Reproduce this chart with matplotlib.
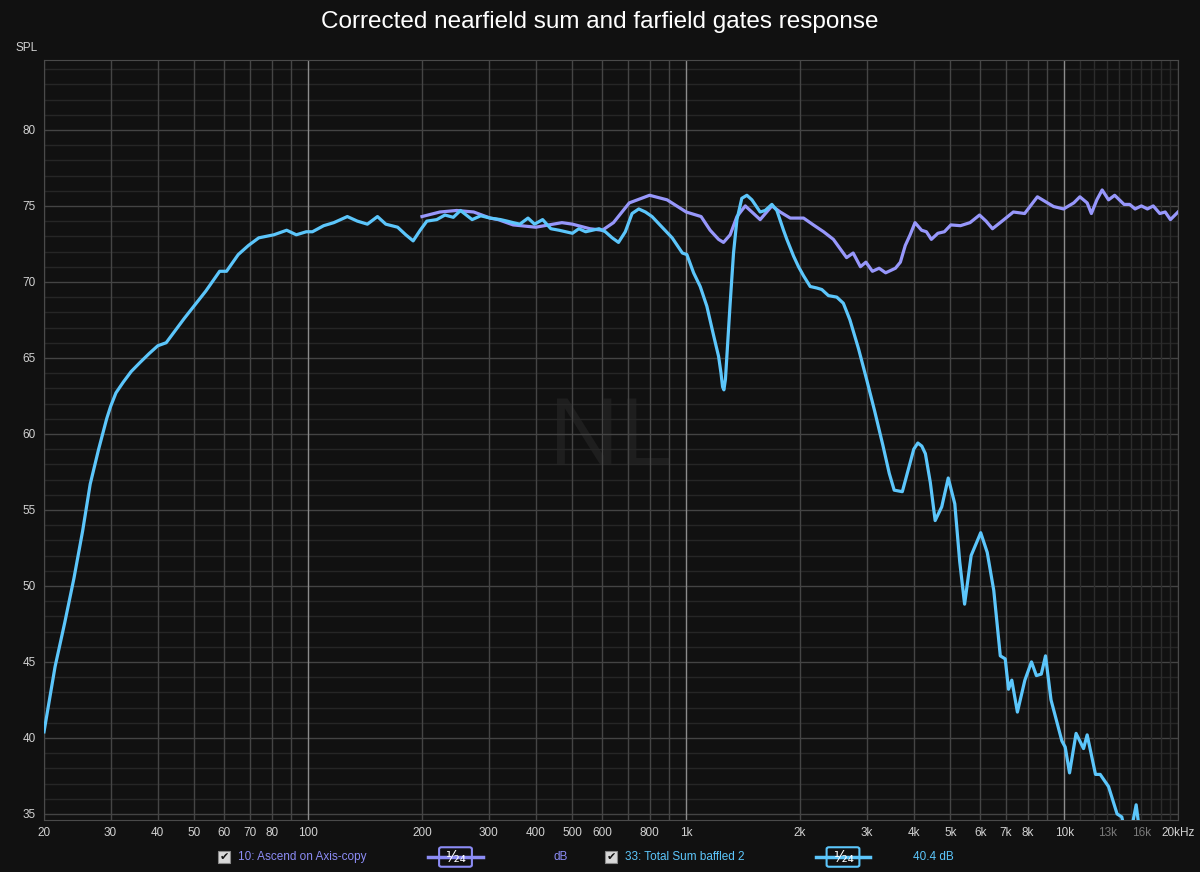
import matplotlib
matplotlib.use('Agg')
import matplotlib.pyplot as plt
from matplotlib.patches import Rectangle, FancyBboxPatch
from matplotlib.lines import Line2D

plt.rcParams['font.family'] = ['Liberation Sans', 'DejaVu Sans']

# 33: Total Sum baffled 2
sum_freq = [20.0, 21.4, 22.7, 24.0, 25.3, 26.5, 27.9, 29.3, 30.0, 31.0, 32.4, 34.0, 35.9, 38.0, 40.0,
            42.1, 47.0, 53.6, 58.3, 60.8, 65.3, 69.5, 74.0, 81.1, 87.7, 93.0, 98.8, 102.6, 109.9,
            116.9, 126.9, 134.9, 143.4, 152.5, 160.4, 172.4, 181.2, 189.5, 197.8, 206, 218.8, 230,
            242, 252.8, 271.4, 286, 303, 322.8, 336, 348.5, 363, 381.5, 397, 417, 438.5, 461, 500,
            520, 542, 588, 611, 637, 662, 690, 719, 749, 780, 812, 863, 918, 977, 1004, 1046, 1089,
            1134, 1181, 1218, 1236, 1248, 1258, 1270, 1281, 1307, 1334, 1362, 1403, 1447, 1492,
            1569, 1618, 1685, 1737, 1809, 1846, 1923, 1982, 2044, 2128, 2216, 2284, 2378, 2502,
            2604, 2711, 2857, 3000, 3152, 3310, 3445, 3550, 3730, 3882, 4000, 4100, 4200, 4293,
            4424, 4556, 4742, 4934, 5135, 5291, 5451, 5673, 6013, 6257, 6511, 6775, 6981, 7123,
            7267, 7519, 7869, 8192, 8441, 8698, 8924, 9228, 9859, 10060, 10330, 10750, 11250,
            11500, 12100, 12450, 13100, 13800, 14200, 14600, 15200, 15500, 15800, 16100]
sum_db = [40.4, 44.7, 47.6, 50.5, 53.6, 56.7, 59.0, 61.0, 61.8, 62.7, 63.4, 64.1, 64.7, 65.3, 65.8,
          66.0, 67.6, 69.4, 70.7, 70.7, 71.8, 72.4, 72.9, 73.1, 73.4, 73.1, 73.3, 73.3, 73.7,
          73.9, 74.3, 74.0, 73.8, 74.3, 73.8, 73.6, 73.1, 72.7, 73.4, 74.0, 74.1, 74.4,
          74.25, 74.7, 74.1, 74.35, 74.2, 74.1, 74.0, 73.9, 73.8, 74.2, 73.8, 74.1, 73.5, 73.4, 73.2,
          73.5, 73.3, 73.5, 73.3, 72.9, 72.6, 73.3, 74.5, 74.8, 74.6, 74.3, 73.6, 72.9, 71.9, 71.8,
          70.6, 69.7, 68.4, 66.5, 65.1, 64.0, 63.1, 62.9, 63.6, 65.1, 68.6, 71.9, 74.1, 75.5,
          75.7, 75.4, 74.6, 74.7, 75.1, 74.7, 73.4, 72.8, 71.7, 71.0, 70.4, 69.7, 69.6, 69.5,
          69.1, 69.0, 68.6, 67.5, 65.6, 63.6, 61.5, 59.3, 57.4, 56.3, 56.2, 57.8, 59.0, 59.4,
          59.2, 58.7, 56.8, 54.3, 55.2, 57.1, 55.4, 51.6, 48.8, 52.0, 53.5, 52.2, 49.7, 45.4,
          45.2, 43.2, 43.8, 41.7, 43.8, 45.0, 44.1, 44.2, 45.4, 42.5, 39.8, 39.4, 37.7, 40.3,
          39.3, 40.2, 37.6, 37.6, 36.8, 35.0, 34.8, 33.5, 34.5, 35.6, 34.0, 32.5]

# 10: Ascend on Axis-copy
axis_freq = [200, 223, 247, 274, 303, 318, 348.5, 400, 469, 500, 556, 600, 642, 707, 800, 890,
             1000, 1095, 1157, 1218, 1255, 1307, 1362, 1433, 1492, 1569, 1685, 1773, 1885, 2044,
             2170, 2309, 2451, 2551, 2656, 2765, 2890, 2988, 3109, 3238, 3370, 3577, 3686, 3798,
             3912, 4030, 4194, 4320, 4452, 4632, 4819, 5014, 5315, 5633, 5970, 6211, 6461, 6848,
             7336, 7858, 8493, 9371, 9960, 10600, 11000, 11500, 11800, 12200, 12600, 13100, 13600,
             14400, 14900, 15400, 16000, 16600, 17200, 17900, 18500, 19100, 20000]
axis_db = [74.3, 74.6, 74.7, 74.6, 74.2, 74.1, 73.75, 73.6, 73.9, 73.8, 73.5, 73.4, 73.9, 75.2, 75.7, 75.4,
           74.6, 74.3, 73.4, 72.8, 72.6, 73.1, 74.3, 75.0, 74.6, 74.1, 75.0, 74.6, 74.2, 74.2,
           73.75, 73.3, 72.8, 72.2, 71.6, 71.9, 71.0, 71.3, 70.7, 70.9, 70.6, 70.9, 71.3, 72.4,
           73.1, 73.9, 73.4, 73.3, 72.8, 73.2, 73.3, 73.75, 73.7, 73.9, 74.4, 74.0, 73.5, 74.0,
           74.6, 74.5, 75.6, 74.96, 74.8, 75.2, 75.6, 75.2, 74.5, 75.4, 76.05, 75.4, 75.7,
           75.1, 75.1, 74.8, 75.0, 74.8, 75.0, 74.5, 74.6, 74.1, 74.6]

x_ticks = [20, 30, 40, 50, 60, 70, 80, 100, 200, 300, 400, 500, 600, 800, 1000, 2000, 3000, 4000,
           5000, 6000, 7000, 8000, 10000, 13000, 16000, 20000]
x_labels = ['20', '30', '40', '50', '60', '70', '80', '100', '200', '300', '400', '500', '600',
            '800', '1k', '2k', '3k', '4k', '5k', '6k', '7k', '8k', '10k', '13k', '16k', '20kHz']
y_ticks = [35, 40, 45, 50, 55, 60, 65, 70, 75, 80]

bg = '#111111'
purple = '#9797fb'
blue = '#5cc6fb'

fig = plt.figure(figsize=(12, 8.72), dpi=100, facecolor=bg)
ax = fig.add_axes([44 / 1200, 1 - 820 / 872, 1134 / 1200, 760 / 872])
ax.set_facecolor(bg)
ax.set_xscale('log')
ax.set_xlim(20, 20000)
ax.set_ylim(34.6, 84.6)

# grid
for db in range(35, 85):
    ax.axhline(db, color='#444444' if db % 5 == 0 else '#262626', lw=1, zorder=1)
for dec in [10, 100, 1000, 10000]:
    for m in range(1, 10):
        f = dec * m
        if f < 20 or f > 20000:
            continue
        if m == 1:
            ax.axvline(f, color='#8c8c8c', lw=1, zorder=2)
        else:
            ax.axvline(f, color='#454545', lw=1, zorder=1)
for f in range(11000, 20000, 1000):
    ax.axvline(f, color='#2c2c2c', lw=1, zorder=1)

for s in ax.spines.values():
    s.set_color('#4a4a4a')

ax.text(0.5, 0.5, 'NL', transform=ax.transAxes, fontsize=70, color='#1e1e1e',
        ha='center', va='center', zorder=0)

ax.plot(axis_freq, axis_db, color=purple, lw=2.3, solid_joinstyle='round', zorder=4)
ax.plot(sum_freq, sum_db, color=blue, lw=2.3, solid_joinstyle='round', zorder=5)

ax.set_xticks(x_ticks)
ax.set_xticklabels(x_labels)
ax.set_xticks([], minor=True)
ax.set_yticks(y_ticks)
ax.tick_params(axis='both', length=0, labelsize=8.5, colors='#d2d2d2')
ax.tick_params(axis='x', pad=5)
ax.tick_params(axis='y', pad=6)
for lab in ax.get_xticklabels():
    if lab.get_text() in ('13k', '16k'):
        lab.set_color('#7a7a7a')

fig.text(0.5, 1 - 22 / 872, 'Corrected nearfield sum and farfield gates response',
         ha='center', va='center', color='white', fontsize=17.5)
fig.text(16 / 1200, 1 - 48 / 872, 'SPL', ha='left', va='center', color='#d2d2d2', fontsize=8.5)


def fx(x):
    return x / 1200


def fy(y):
    return 1 - y / 872


def legend_item(x_box, name, color, x_line0, x_line1, x_val, val):
    fig.patches.append(Rectangle((fx(x_box), fy(863)), 12 / 1200, 12 / 872, transform=fig.transFigure,
                                 facecolor='#d8d8d8', edgecolor='#888888', lw=0.8))
    fig.text(fx(x_box + 6), fy(857), '\u2714', ha='center', va='center', color='#111111',
             fontsize=8, family='DejaVu Sans')
    fig.text(fx(x_box + 20), fy(857), name, ha='left', va='center', color=color, fontsize=8.5)
    fig.lines.append(Line2D([fx(x_line0), fx(x_line1)], [fy(857), fy(857)], transform=fig.transFigure,
                            color=color, lw=2.5))
    mid = (x_line0 + x_line1) / 2
    fig.patches.append(FancyBboxPatch((fx(mid - 14), fy(865)), 28 / 1200, 16 / 872,
                                      boxstyle='round,pad=0.002', transform=fig.transFigure,
                                      facecolor=bg, edgecolor=color, lw=1.5))
    fig.text(fx(mid), fy(857), '\u00b9\u2044\u2082\u2084', ha='center', va='center', color='white',
             fontsize=11, family='DejaVu Sans')
    fig.text(fx(x_val), fy(857), val, ha='left', va='center', color=color, fontsize=8.5)


legend_item(218, '10: Ascend on Axis-copy', '#8c8cf5', 428, 483, 553, 'dB')
legend_item(605, '33: Total Sum baffled 2', '#5cc6fb', 816, 870, 913, '40.4 dB')

fig.savefig('out.png', dpi=100, facecolor=bg)
